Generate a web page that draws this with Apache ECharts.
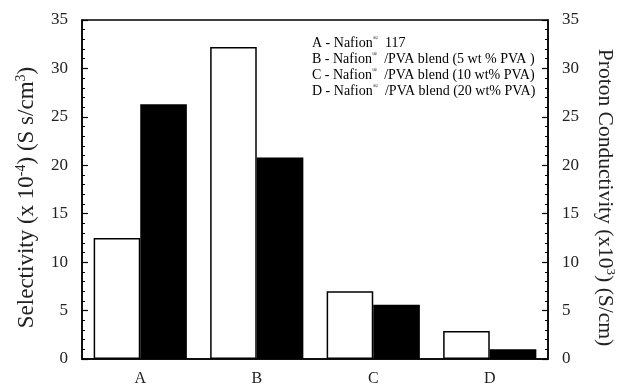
<!DOCTYPE html>
<html>
<head>
<meta charset="utf-8">
<script src="https://cdn.jsdelivr.net/npm/echarts@6/dist/echarts.min.js"></script>
<style>
  html, body { margin: 0; padding: 0; background: #fff; }
  #chart { width: 620px; height: 386px; }
</style>
</head>
<body>
<div id="chart"></div>
<script>
// data
const categories = ['A', 'B', 'C', 'D']
const selectivity = [12.5, 32.2, 7.0, 2.9]      // white bars, left axis
const conductivity = [26.3, 20.8, 5.6, 1.0]     // black bars, right axis
const legendLines = [
  ['A - Nafion', '  117'],
  ['B - Nafion', '  /PVA blend (5 wt % PVA )'],
  ['C - Nafion', '  /PVA blend (10 wt% PVA)'],
  ['D - Nafion', '  /PVA blend (20 wt% PVA)']
]

const serif = "'Liberation Serif', 'DejaVu Serif', serif"
const chart = echarts.init(document.getElementById('chart'))

const supStyle = (size) => ({
  t: { fontFamily: serif, fontSize: size, color: '#222' },
  s: { fontFamily: serif, fontSize: Math.round(size * 0.6), color: '#222', verticalAlign: 'top', padding: [0, 0, 12, 0] }
})

const axisCommon = {
  type: 'value',
  min: 0,
  max: 35,
  interval: 5,
  axisLine: { show: true, lineStyle: { color: '#000', width: 1.5 } },
  axisTick: { show: true, inside: true, length: 6, lineStyle: { color: '#000', width: 1.2 } },
  minorTick: { show: true, splitNumber: 5, length: 3, lineStyle: { color: '#000', width: 1 } },
  splitLine: { show: false },
  axisLabel: { fontFamily: serif, fontSize: 17, color: '#222', margin: 14 },
  nameLocation: 'middle'
}

const legendText = legendLines
  .map(l => '{t|' + l[0] + '}{s|®}{t|' + l[1] + '}')
  .join('\n')

const option = {
  animation: false,
  grid: {
    left: 82, right: 72, top: 20, bottom: 27,
    outerBoundsMode: 'none',
    containLabel: false,
    show: true, borderColor: '#000', borderWidth: 1.5
  },
  xAxis: {
    type: 'category',
    data: categories,
    axisLine: { lineStyle: { color: '#000', width: 1.5 } },
    axisTick: { show: false },
    axisLabel: { fontFamily: serif, fontSize: 16, color: '#222', margin: 12 }
  },
  yAxis: [
    Object.assign({}, axisCommon, {
      position: 'left',
      name: '{t|Selectivity (x 10}{s|-4}{t|) (S s/cm}{s|3}{t|)}',
      nameGap: 42,
      nameRotate: 90,
      nameTextStyle: { rich: supStyle(23), padding: [0, 16, 0, 0] }
    }),
    Object.assign({}, axisCommon, {
      position: 'right',
      name: '{t|Proton Conductivity (x10}{s|3}{t|) (S/cm)}',
      nameGap: 44,
      nameRotate: -90,
      nameTextStyle: { rich: supStyle(21.5), padding: [0, 0, 0, 16] }
    })
  ],
  series: [
    {
      name: 'Selectivity',
      type: 'bar',
      yAxisIndex: 0,
      data: selectivity,
      barWidth: '40%',
      barGap: '0%',
      itemStyle: { color: '#fff', borderColor: '#000', borderWidth: 1.5 }
    },
    {
      name: 'Proton Conductivity',
      type: 'bar',
      yAxisIndex: 1,
      data: conductivity,
      barWidth: '40%',
      barGap: '0%',
      itemStyle: { color: '#000', borderColor: '#000', borderWidth: 1.5 }
    }
  ],
  graphic: [{
    type: 'text',
    left: 312,
    top: 35,
    style: {
      text: legendText,
      rich: {
        t: { fontFamily: serif, fontSize: 14, color: '#222', lineHeight: 16 },
        s: { fontFamily: serif, fontSize: 7, color: '#222', verticalAlign: 'top', lineHeight: 16 }
      }
    }
  }]
}

chart.setOption(option)
</script>
</body>
</html>
